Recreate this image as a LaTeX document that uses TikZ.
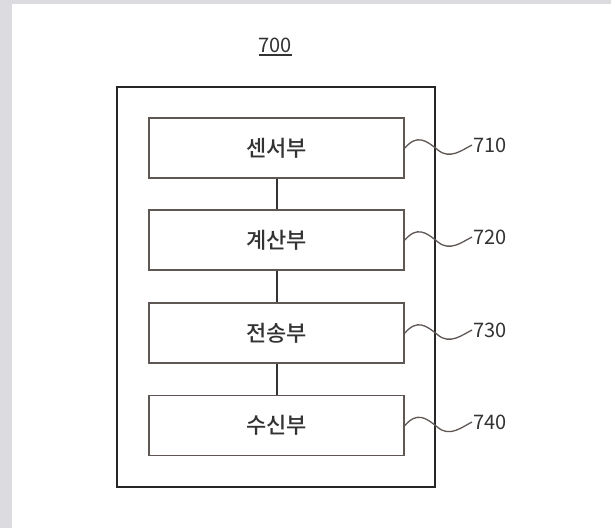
\documentclass[tikz,border=0pt]{standalone}
\usepackage{fontspec}
\newfontfamily\krfont{Noto Sans CJK KR Medium}
\newfontfamily\numfont{Noto Sans CJK KR}
\definecolor{edge}{HTML}{5F5754}
\definecolor{ink}{HTML}{333333}
\definecolor{frame}{HTML}{DCDCE0}

\begin{document}
\begin{tikzpicture}
  [x=1bp,y=-1bp,every node/.style={text=ink,font=\krfont\fontsize{22bp}{24bp}\selectfont},
   unit/.style={draw=edge,line width=1.8bp,minimum width=255bp,minimum height=60bp,inner sep=0pt},
   refno/.style={font=\numfont\fontsize{20bp}{22bp}\selectfont,inner sep=1bp},
   wave/.style={draw=edge,line width=1.3bp}]

  \fill[frame] (0,0) rectangle (611,528);
  \fill[white] (12,4) rectangle (611,528);
  \useasboundingbox (0,0) rectangle (611,528);

  \node[refno] (title) at (275,45) {700};
  \draw[ink,line width=1.5bp] (title.south west)++(2,1.5) -- ++(33,0);

  \draw[black!85,line width=2.4bp] (117,87) rectangle (435,487);

  \node[unit] (sensor) at (276.5,148) {센서부};
  \node[unit] (calc) at (276.5,240) {계산부};
  \node[unit] (send) at (276.5,333) {전송부};
  \node[unit] (recv) at (276.5,425.5) {수신부};

  \path[draw=ink,line width=2bp] (sensor) -- (calc) (calc) -- (send) (send) -- (recv);

  \node[refno,anchor=west] (r710) at (472,145) {710};
  \node[refno,anchor=west] (r720) at (472,237) {720};
  \node[refno,anchor=west] (r730) at (472,330) {730};
  \node[refno,anchor=west] (r740) at (472,422) {740};

  % leader waves
  \foreach \unitname/\num in {sensor/r710,calc/r720,send/r730,recv/r740}
    \draw[wave] (\unitname.east) .. controls ++(12,-14) and ++(-12,-10) .. ++(33,2)
      .. controls ++(12,10) and ++(-10,5) .. (\num.west);

\end{tikzpicture}
\end{document}
